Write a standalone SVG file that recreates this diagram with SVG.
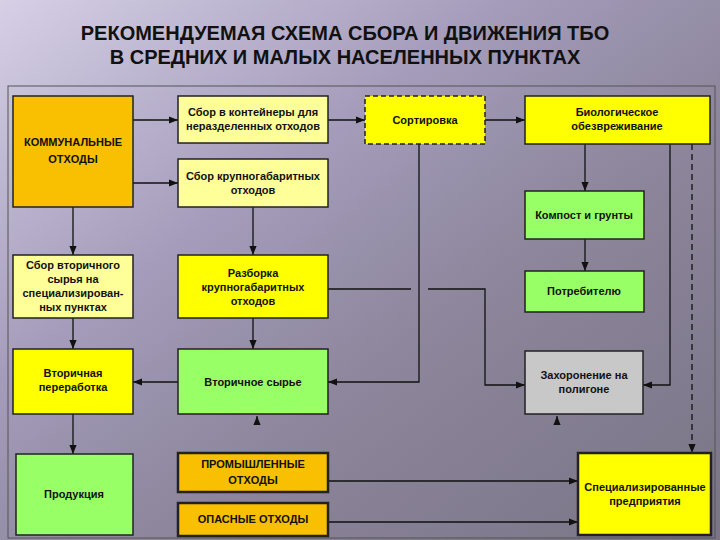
<svg xmlns="http://www.w3.org/2000/svg" width="720" height="540" viewBox="0 0 720 540">
<defs>
<linearGradient id="bg" x1="0" y1="0" x2="1" y2="1">
<stop offset="0" stop-color="#d6cfe6"/><stop offset="0.35" stop-color="#a49cba"/><stop offset="0.6" stop-color="#8d869c"/><stop offset="1" stop-color="#7a7486"/>
</linearGradient>
<marker id="a" viewBox="0 0 10 10" refX="10" refY="5" markerWidth="7" markerHeight="7" orient="auto"><path d="M0,1 L10,5 L0,9 z" fill="#111"/></marker>
</defs>
<style>
.n rect{stroke:#222;stroke-width:1.5}
.t{font-family:"Liberation Sans",Arial,sans-serif;font-size:11px;text-anchor:middle;fill:#111;font-weight:bold}
.c line,.c polyline{stroke:#111;stroke-width:1.3;fill:none;marker-end:url(#a)}
</style>
<rect width="720" height="540" fill="url(#bg)"/>
<rect x="8" y="86" width="707" height="452" fill="none" stroke="#555" stroke-width="1"/>
<g id="title" font-family="Liberation Sans,Arial,sans-serif" font-weight="bold" font-size="20" text-anchor="middle" fill="#111">
<text x="345" y="40">РЕКОМЕНДУЕМАЯ СХЕМА СБОРА И ДВИЖЕНИЯ ТБО</text>
<text x="345" y="64">В СРЕДНИХ И МАЛЫХ НАСЕЛЕННЫХ ПУНКТАХ</text>
</g>
<g class="c" id="connectors">
<line x1="133" y1="120" x2="178" y2="120"/>
<line x1="328" y1="120" x2="365" y2="120"/>
<line x1="485" y1="120" x2="525" y2="120"/>
<line x1="133" y1="183" x2="178" y2="183"/>
<line x1="73" y1="207" x2="73" y2="255"/>
<line x1="253" y1="207" x2="253" y2="255"/>
<line x1="585" y1="144" x2="585" y2="191"/>
<line x1="585" y1="239" x2="585" y2="271"/>
<polyline points="419,144 419,382 328,382"/>
<line x1="328" y1="289" x2="411" y2="289" style="marker-end:none"/>
<polyline points="428,289 485,289 485,385 525,385"/>
<polyline points="670,144 670,385 643,385"/>
<line x1="692" y1="144" x2="692" y2="453" stroke-dasharray="6,4"/>
<line x1="73" y1="318" x2="73" y2="349"/>
<line x1="253" y1="318" x2="253" y2="349"/>
<line x1="178" y1="382" x2="133" y2="382"/>
<line x1="73" y1="414" x2="73" y2="454"/>
<line x1="328" y1="481" x2="578" y2="481" stroke-width="0.8"/>
<line x1="328" y1="522" x2="578" y2="522" stroke-width="0.8"/>
<line x1="257" y1="420" x2="257" y2="416"/>
<line x1="557" y1="420" x2="557" y2="416"/>
</g>
<g class="n" id="n1"><rect x="13" y="96" width="120" height="111" fill="#f8c000"/><text class="t" x="73" y="146">КОММУНАЛЬНЫЕ</text><text class="t" x="73" y="163">ОТХОДЫ</text></g>
<g class="n" id="n2"><rect x="178" y="96" width="150" height="47" fill="#ffff99"/><text class="t" x="253" y="116">Сбор в контейнеры для</text><text class="t" x="253" y="130">неразделенных отходов</text></g>
<g class="n" id="n3"><rect x="365" y="96" width="120" height="48" fill="#ffff00" stroke-dasharray="5,3"/><text class="t" x="425" y="124">Сортировка</text></g>
<g class="n" id="n4"><rect x="525" y="96" width="185" height="48" fill="#ffff00"/><text class="t" x="617" y="116">Биологическое</text><text class="t" x="617" y="130">обезвреживание</text></g>
<g class="n" id="n5"><rect x="178" y="159" width="150" height="48" fill="#ffff99"/><text class="t" x="253" y="180">Сбор крупногабаритных</text><text class="t" x="253" y="194">отходов</text></g>
<g class="n" id="n6"><rect x="525" y="191" width="119" height="48" fill="#99ff66"/><text class="t" x="584" y="219">Компост и грунты</text></g>
<g class="n" id="n7"><rect x="525" y="271" width="119" height="41" fill="#99ff66"/><text class="t" x="584" y="295">Потребителю</text></g>
<g class="n" id="n8"><rect x="13" y="255" width="120" height="63" fill="#ffff99"/><text class="t" x="73" y="269">Сбор вторичного</text><text class="t" x="73" y="283">сырья на</text><text class="t" x="73" y="297">специализирован-</text><text class="t" x="73" y="311">ных пунктах</text></g>
<g class="n" id="n9"><rect x="178" y="255" width="150" height="63" fill="#ffff00"/><text class="t" x="253" y="277">Разборка</text><text class="t" x="253" y="291">крупногабаритных</text><text class="t" x="253" y="305">отходов</text></g>
<g class="n" id="n10"><rect x="13" y="349" width="120" height="65" fill="#ffff00"/><text class="t" x="73" y="377">Вторичная</text><text class="t" x="73" y="391">переработка</text></g>
<g class="n" id="n11"><rect x="178" y="349" width="150" height="65" fill="#99ff66"/><text class="t" x="253" y="386">Вторичное сырье</text></g>
<g class="n" id="n12"><rect x="525" y="351" width="118" height="63" fill="#c8c8c8"/><text class="t" x="584" y="379">Захоронение на</text><text class="t" x="584" y="393">полигоне</text></g>
<g class="n" id="n13"><rect x="16" y="454" width="117" height="81" fill="#99ff66"/><text class="t" x="74" y="498">Продукция</text></g>
<g class="n" id="n14"><rect x="178" y="453" width="150" height="39" fill="#f8c000" style="stroke-width:2.5"/><text class="t" x="253" y="468">ПРОМЫШЛЕННЫЕ</text><text class="t" x="253" y="484">ОТХОДЫ</text></g>
<g class="n" id="n15"><rect x="178" y="503" width="150" height="33" fill="#f8c000" style="stroke-width:2.5"/><text class="t" x="253" y="523">ОПАСНЫЕ  ОТХОДЫ</text></g>
<g class="n" id="n16"><rect x="578" y="453" width="133" height="82" fill="#ffff00" style="stroke-width:2.5"/><text class="t" x="645" y="491">Специализированные</text><text class="t" x="645" y="505">предприятия</text></g>
</svg>
